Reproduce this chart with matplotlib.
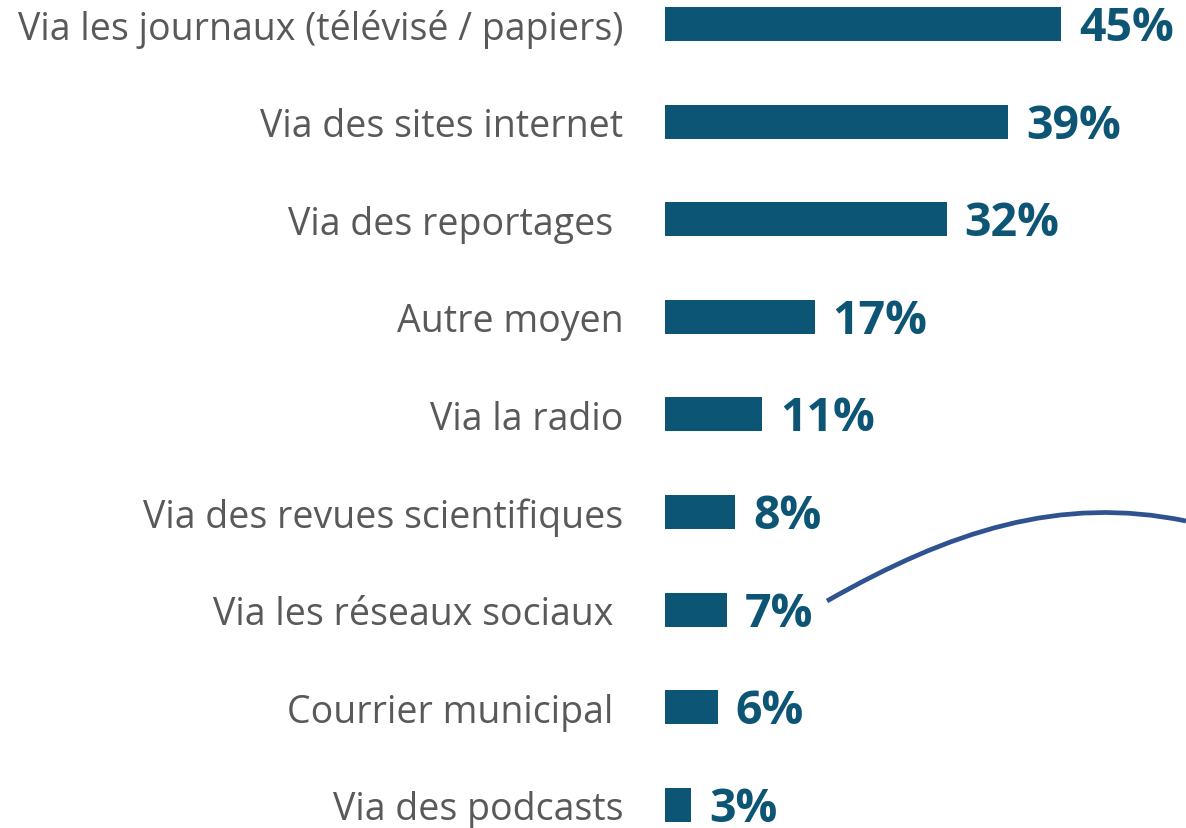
import matplotlib
matplotlib.use("Agg")
import matplotlib.pyplot as plt
from matplotlib.path import Path
from matplotlib.patches import PathPatch

categories = [
    "Via les journaux (télévisé / papiers)",
    "Via des sites internet",
    "Via des reportages ",
    "Autre moyen",
    "Via la radio",
    "Via des revues scientifiques",
    "Via les réseaux sociaux ",
    "Courrier municipal ",
    "Via des podcasts",
]
values = [45, 39, 32, 17, 11, 8, 7, 6, 3]
value_labels = ["45%", "39%", "32%", "17%", "11%", "8%", "7%", "6%", "3%"]

BAR = "#0D5574"
GRAY = "#595959"
CURVE = "#2F5291"

W, H = 1186, 829
fig = plt.figure(figsize=(W / 100, H / 100), dpi=100)
fig.patch.set_facecolor("white")

ax_left = 665 / W
ax = fig.add_axes([ax_left, 0, 1 - ax_left, 1])
ax.set_xlim(0, 45 * (W - 665) / 396)
spacing = 97.6
top = -25 / spacing
ax.set_ylim(top + H / spacing, top)

y = list(range(len(categories)))
ax.barh(y, values, height=0.35, color=BAR)
for yi, v, lab in zip(y, values, value_labels):
    ax.annotate(lab, (v, yi), xytext=(13, -2.5), textcoords="offset points",
                ha="left", va="center", fontsize=33.5, fontweight="bold",
                color=BAR, family="Open Sans")

ax.set_yticks(y)
ax.set_yticklabels(categories, fontsize=27, color=GRAY, family="Open Sans")
ax.tick_params(axis="y", length=0, pad=30)
ax.set_xticks([])
for s in ax.spines.values():
    s.set_visible(False)
ax.patch.set_alpha(0)

# decorative curve (figure pixel coordinates)
pts = [(827, 602), (950, 532), (1060, 496), (1186, 522)]
verts = [(px / W, 1 - py / H) for px, py in pts]
path = Path(verts, [Path.MOVETO, Path.CURVE4, Path.CURVE4, Path.CURVE4])
fig.patches.append(PathPatch(path, transform=fig.transFigure, fill=False,
                             edgecolor=CURVE, lw=3.4, capstyle="butt"))

fig.savefig("out.png", dpi=100)
